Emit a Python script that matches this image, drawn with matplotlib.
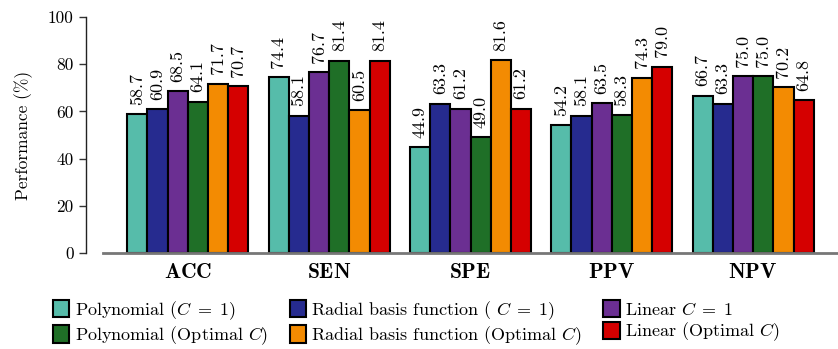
import matplotlib
matplotlib.use("Agg")
import matplotlib.pyplot as plt
import numpy as np

plt.rcParams['font.family'] = 'serif'
plt.rcParams['font.serif'] = ['cmr10', 'DejaVu Serif']
plt.rcParams['mathtext.fontset'] = 'cm'
plt.rcParams['axes.formatter.use_mathtext'] = True
plt.rcParams['axes.unicode_minus'] = False

categories = ['ACC', 'SEN', 'SPE', 'PPV', 'NPV']
series_names = [
    r'Polynomial ($C\;=\;1$)',
    r'Radial basis function ( $C\;=\;1$)',
    r'Linear $C\;=\;1$',
    r'Polynomial (Optimal $C$)',
    r'Radial basis function (Optimal $C$)',
    r'Linear (Optimal $C$)',
]
poly_c1 = [58.7, 74.4, 44.9, 54.2, 66.7]
rbf_c1 = [60.9, 58.1, 63.3, 58.1, 63.3]
linear_c1 = [68.5, 76.7, 61.2, 63.5, 75.0]
poly_opt = [64.1, 81.4, 49.0, 58.3, 75.0]
rbf_opt = [71.7, 60.5, 81.6, 74.3, 70.2]
linear_opt = [70.7, 81.4, 61.2, 79.0, 64.8]
series = [poly_c1, rbf_c1, linear_c1, poly_opt, rbf_opt, linear_opt]
colors = ['#56BCAA', '#262B8F', '#6B2F92', '#1F6F27', '#F38B02', '#D50000']
yticks = [0, 20, 40, 60, 80, 100]

FS = 12.5

fig = plt.figure(figsize=(8.38, 3.49), dpi=100)
ax = fig.add_axes([103/838, 1-253/349, 735/838, (253-17)/349])

for s in ['top', 'right']:
    ax.spines[s].set_visible(False)
ax.spines['left'].set_position(('outward', 12))
ax.spines['left'].set_color('#222222')
ax.spines['left'].set_linewidth(1.0)
ax.spines['bottom'].set_color('#777777')
ax.spines['bottom'].set_linewidth(2.0)

x = np.arange(len(categories))
w = 1/7
handles = []
for i, (vals, c, name) in enumerate(zip(series, colors, series_names)):
    bars = ax.bar(x + (i-2.5)*w, vals, width=w, color=c, edgecolor='black',
                  linewidth=1.5, label=name, zorder=2)
    handles.append(bars)
    for xi, v in zip(x + (i-2.5)*w, vals):
        ax.text(xi, v + 4.0, f'{v:.1f}', rotation=90, ha='center', va='bottom',
                fontsize=13, clip_on=False)

ax.set_xlim(-0.6, 4.6)
ax.set_ylim(0, 100)
ax.set_yticks(yticks)
ax.set_yticklabels([str(t) for t in yticks], fontsize=FS)
ax.set_xticks(x)
ax.set_xticklabels([r'$\mathbf{' + c + '}$' for c in categories], fontsize=15.5)
ax.tick_params(axis='x', length=0, pad=7)
ax.tick_params(axis='y', length=5, width=1, color='#333333', pad=4, labelsize=FS)
ax.set_ylabel('Performance (%)', fontsize=FS, labelpad=11)

order = [0, 3, 1, 4, 2, 5]
fig.legend(handles=[handles[k] for k in order],
           labels=[series_names[k] for k in order],
           loc='upper left', bbox_to_anchor=(53/838, 1-299/349),
           ncol=3, frameon=False, fontsize=13, handlelength=0.9, handleheight=1.1,
           handletextpad=0.3, columnspacing=1.2, labelspacing=0.15, borderpad=0,
           borderaxespad=0)

fig.savefig('out.png', dpi=100)
